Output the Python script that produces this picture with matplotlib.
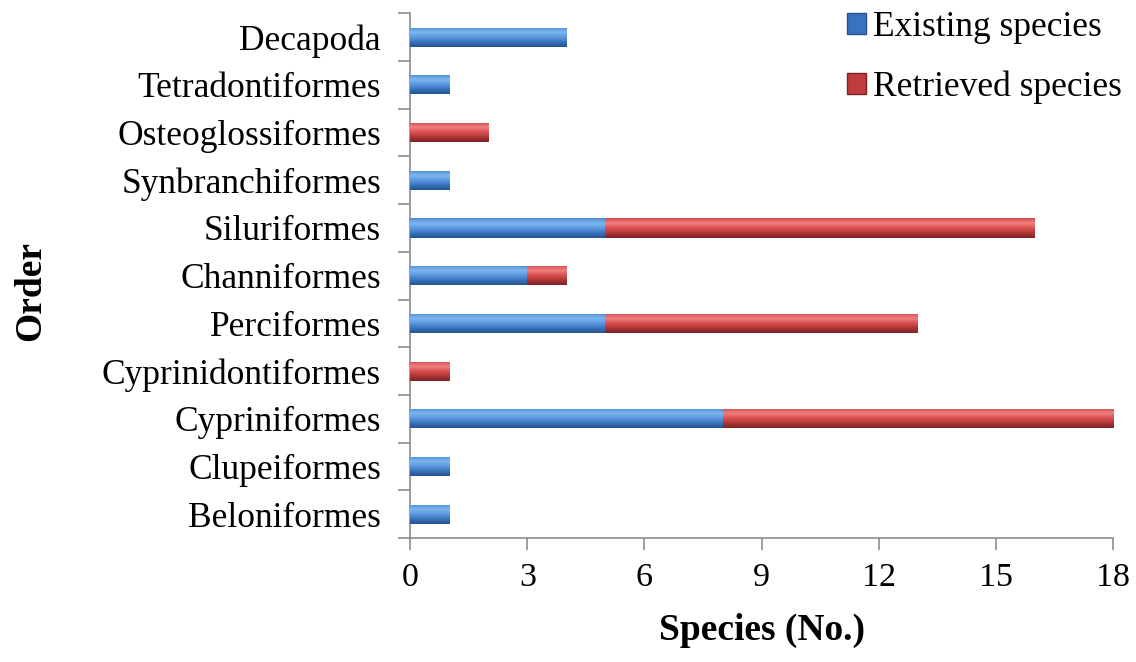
import numpy as np
import matplotlib.pyplot as plt
from matplotlib.colors import LinearSegmentedColormap
from matplotlib.patches import Patch

# data, bottom to top
orders = ['Beloniformes', 'Clupeiformes', 'Cypriniformes', 'Cyprinidontiformes',
          'Perciformes', 'Channiformes', 'Siluriformes', 'Synbranchiformes',
          'Osteoglossiformes', 'Tetradontiformes', 'Decapoda']
existing = [1, 1, 8, 0, 5, 3, 5, 1, 0, 1, 4]
retrieved = [0, 0, 10, 1, 8, 1, 11, 0, 2, 0, 0]
xticks = [0, 3, 6, 9, 12, 15, 18]

serif = ['Liberation Serif', 'DejaVu Serif']
axis_col = '#8c8c8c'

blue_cmap = LinearSegmentedColormap.from_list(
    'b', ['#24548f', '#3a73bd', '#5b9be0', '#7db6f0', '#4f8bd4'])
red_cmap = LinearSegmentedColormap.from_list(
    'r', ['#7a2323', '#b03636', '#d95050', '#f08080', '#d24848'])

fig = plt.figure(figsize=(11.36, 6.62), dpi=100)
ax = fig.add_axes([0.361, 0.187, 0.619, 0.793])

y = np.arange(len(orders))
h = 0.4


def shaded_bars(left, width, cmap):
    bars = ax.barh(y, width, left=left, height=h, color=cmap(0.5),
                   edgecolor='none', zorder=2)
    grad = np.linspace(0, 1, 64).reshape(-1, 1)
    for b in bars:
        if b.get_width() <= 0:
            continue
        x0, y0 = b.get_x(), b.get_y()
        im = ax.imshow(grad, cmap=cmap, aspect='auto', origin='lower',
                       extent=(x0, x0 + b.get_width(), y0, y0 + b.get_height()),
                       zorder=3, interpolation='bilinear')
        im.set_clip_path(b)
    return bars


shaded_bars(0, existing, blue_cmap)
shaded_bars(existing, retrieved, red_cmap)

ax.set_xlim(0, 18)
ax.set_ylim(-0.5, len(orders) - 0.5)

ax.set_xticks(xticks)
ax.set_xticklabels([str(t) for t in xticks], fontsize=24.5, family=serif)
ax.set_yticks(y)
ax.set_yticklabels(orders, fontsize=25.5, family=serif)
ax.set_yticks(np.arange(-0.5, len(orders)), minor=True)
ax.tick_params(axis='y', which='major', length=0, pad=21)
ax.tick_params(axis='y', which='minor', length=9, color=axis_col, width=1.2)
ax.tick_params(axis='x', which='major', length=8.5, color=axis_col, width=1.2,
               pad=9)

for s in ['top', 'right']:
    ax.spines[s].set_visible(False)
for s in ['left', 'bottom']:
    ax.spines[s].set_color(axis_col)
    ax.spines[s].set_linewidth(1.2)

ax.set_xlabel('Species (No.)', fontsize=27, fontweight='bold', family=serif,
              labelpad=14)
ax.set_ylabel('Order', fontsize=27, fontweight='bold', family=serif)
ax.yaxis.set_label_coords(-0.515, 0.47)

handles = [Patch(facecolor='#3a73bd', edgecolor='#24548f'),
           Patch(facecolor='#c03c3c', edgecolor='#7a2323')]
ax.legend(handles, ['Existing species', 'Retrieved species'], loc='upper right',
          bbox_to_anchor=(1.058, 1.065), frameon=False,
          prop={'family': serif, 'size': 25.5}, handlelength=0.55,
          handleheight=0.55, handletextpad=0.2, labelspacing=0.75)

fig.savefig('out.png', dpi=100)
